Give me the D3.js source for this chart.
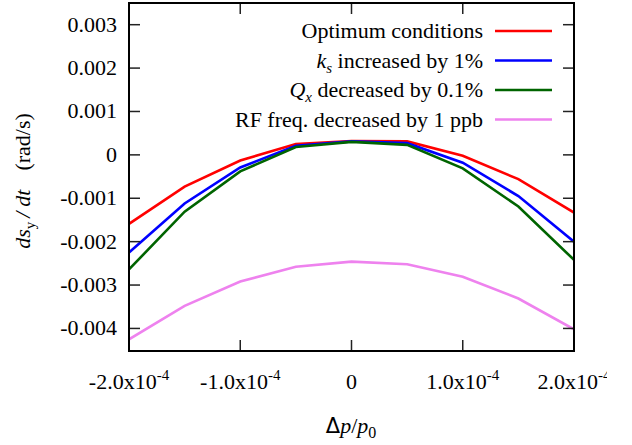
<!DOCTYPE html>
<html>
<head>
<meta charset="utf-8">
<script src="https://cdn.jsdelivr.net/npm/d3@7"></script>
<style>
  html, body { margin: 0; padding: 0; background: #fff; }
  svg { display: block; }
</style>
</head>
<body>
<svg id="chart" width="632" height="445"></svg>
<script>
// Momentum offset Δp/p0 at which ds_y/dt was evaluated
const dpValues = [-2.0e-4, -1.5e-4, -1.0e-4, -0.5e-4, 0, 0.5e-4, 1.0e-4, 1.5e-4, 2.0e-4];

// ds_y/dt (rad/s) for each scenario
const optimum   = [-0.00159, -0.00073, -0.00013, 0.00025, 0.00032, 0.00031, -0.00002, -0.00056, -0.00133];
const ksPlus1   = [-0.00225, -0.00112, -0.00029, 0.00021, 0.00031, 0.00027, -0.00018, -0.00095, -0.00200];
const qxMinus01 = [-0.00264, -0.00131, -0.00038, 0.00018, 0.00030, 0.00023, -0.00031, -0.00119, -0.00242];
const rfMinus1  = [-0.00425, -0.00348, -0.00292, -0.00258, -0.00246, -0.00252, -0.00281, -0.00331, -0.00402];

const seriesColors = ["#ff0000", "#0000ff", "#006400", "#ee82ee"];

const yTickValues = [0.003, 0.002, 0.001, 0, -0.001, -0.002, -0.003, -0.004];
const yTickLabels = ["0.003", "0.002", "0.001", "0", "-0.001", "-0.002", "-0.003", "-0.004"];
const xTickValues = [-2e-4, -1e-4, 0, 1e-4, 2e-4];
const xTickMant   = ["-2.0x10", "-1.0x10", "0", "1.0x10", "2.0x10"];
const xTickExp    = ["-4", "-4", "", "-4", "-4"];

const series = [optimum, ksPlus1, qxMinus01, rfMinus1];

const SERIF = `"Liberation Serif", monospace`;
const FS = 22;

const svg = d3.select("#chart").style("font-family", SERIF);
const plotL = 129, plotR = 574, plotT = 3, plotB = 351;

const x = d3.scaleLinear().domain([-2e-4, 2e-4]).range([plotL, plotR]);
const y = d3.scaleLinear().domain([-0.00452, 0.0035]).range([plotB, plotT]);

const defs = svg.append("defs");
defs.append("clipPath").attr("id", "plotclip")
  .append("rect").attr("x", plotL).attr("y", plotT).attr("width", plotR - plotL).attr("height", plotB - plotT);
// the drawing area ends a little short of the window's right edge
defs.append("clipPath").attr("id", "canvasclip")
  .append("rect").attr("x", 0).attr("y", 0).attr("width", 607).attr("height", 445);

// data lines
const line = d3.line().x((d, i) => x(dpValues[i])).y(d => y(d));
svg.append("g").attr("clip-path", "url(#plotclip)")
  .selectAll("path.series").data(series).join("path")
  .attr("class", "series")
  .attr("d", d => line(d))
  .attr("fill", "none")
  .attr("stroke", (d, i) => seriesColors[i])
  .attr("stroke-width", 2.6)
  .attr("stroke-linejoin", "miter");

// inward ticks on all four sides
const tickLen = 11;
const tickG = svg.append("g").attr("stroke", "#222").attr("stroke-width", 1.5);
yTickValues.forEach(v => {
  tickG.append("line").attr("x1", plotL).attr("x2", plotL + tickLen).attr("y1", y(v)).attr("y2", y(v));
  tickG.append("line").attr("x1", plotR).attr("x2", plotR - tickLen).attr("y1", y(v)).attr("y2", y(v));
});
xTickValues.forEach(v => {
  tickG.append("line").attr("x1", x(v)).attr("x2", x(v)).attr("y1", plotB).attr("y2", plotB - tickLen);
  tickG.append("line").attr("x1", x(v)).attr("x2", x(v)).attr("y1", plotT).attr("y2", plotT + tickLen);
});

// frame
svg.append("rect").attr("x", plotL).attr("y", plotT).attr("width", plotR - plotL).attr("height", plotB - plotT)
  .attr("fill", "none").attr("stroke", "#000").attr("stroke-width", 2);

// y tick labels
yTickValues.forEach((v, i) => {
  svg.append("text")
    .attr("x", 117).attr("y", y(v) + 7)
    .attr("text-anchor", "end").attr("font-size", FS)
    .style("font-family", SERIF)
    .text(yTickLabels[i]);
});

// x tick labels with superscript exponent
const xg = svg.append("g").attr("clip-path", "url(#canvasclip)");
xTickValues.forEach((v, i) => {
  const t = xg.append("text")
    .attr("x", x(v)).attr("y", 389)
    .attr("text-anchor", "middle").attr("font-size", FS)
    .style("font-family", SERIF);
  t.append("tspan").text(xTickMant[i]);
  if (xTickExp[i]) t.append("tspan").attr("dy", -9).attr("font-size", 15).text(xTickExp[i]);
});

// x axis title: Δp/p0
const xt = svg.append("text")
  .attr("x", 351).attr("y", 433).attr("text-anchor", "middle").attr("font-size", FS)
  .style("font-family", SERIF);
xt.append("tspan").style("font-family", `"DejaVu Sans", monospace`).attr("font-size", 21).text("Δ");
xt.append("tspan").attr("font-style", "italic").text("p");
xt.append("tspan").text("/");
xt.append("tspan").attr("font-style", "italic").text("p");
xt.append("tspan").attr("dy", 5).attr("font-size", 16).text("0");

// y axis title: ds_y / dt  (rad/s)
const yt = svg.append("text")
  .attr("transform", "translate(30,181) rotate(-90)")
  .attr("text-anchor", "middle").attr("font-size", FS)
  .style("font-family", SERIF);
yt.append("tspan").attr("font-style", "italic").text("ds");
yt.append("tspan").attr("dy", 5).attr("font-size", 15).text("y");
yt.append("tspan").attr("dy", -5).attr("dx", 4).attr("font-style", "italic").text("/");
yt.append("tspan").attr("dx", 5).attr("font-style", "italic").text("dt");
yt.append("tspan").attr("dx", 19).text("(rad/s)");

// legend
const legendRows = [
  [{t: "Optimum conditions"}],
  [{t: "k", i: true}, {t: "s", i: true, sub: true}, {t: " increased by 1%"}],
  [{t: "Q", i: true}, {t: "x", i: true, sub: true}, {t: " decreased by 0.1%"}],
  [{t: "RF freq. decreased by 1 ppb"}]
];
const legendY = [31, 60.5, 90, 119.5];
legendRows.forEach((parts, r) => {
  const t = svg.append("text")
    .attr("x", 483).attr("y", legendY[r] + 7)
    .attr("text-anchor", "end").attr("font-size", FS)
    .style("font-family", SERIF);
  let shifted = false;
  parts.forEach(p => {
    const s = t.append("tspan").text(p.t);
    if (p.i) s.attr("font-style", "italic");
    if (p.sub) { s.attr("dy", 5).attr("font-size", 15); shifted = true; }
    else if (shifted) { s.attr("dy", -5); shifted = false; }
  });
  svg.append("line").attr("x1", 495).attr("x2", 552).attr("y1", legendY[r]).attr("y2", legendY[r])
    .attr("stroke", seriesColors[r]).attr("stroke-width", 2.6);
});
</script>
</body>
</html>
